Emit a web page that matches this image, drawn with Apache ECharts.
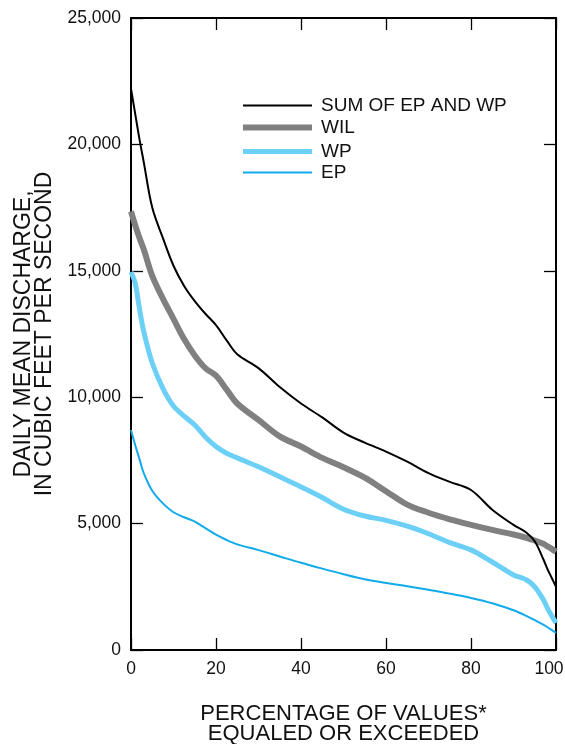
<!DOCTYPE html>
<html>
<head>
    <meta charset="UTF-8">
    <title>Daily mean discharge</title>
    <script src="https://cdn.jsdelivr.net/npm/echarts@6/dist/echarts.min.js"></script>
    <style>
        * { padding: 0; margin: 0; }
        body { background: #fff; }
        #chart { width: 565px; height: 744px; }
    </style>
</head>
<body>
    <div id="chart"></div>
<script>
    // percentage of values equaled or exceeded
    var pct = [0, 1, 2, 3, 5, 7.5, 10, 12.5, 15, 17.5, 20, 22.5, 25, 30, 35, 40, 45, 50, 55, 60, 65, 70, 75, 80, 85, 90, 93, 95, 97, 98, 99, 100];

    // daily mean discharge, cubic feet per second
    var sumEpWp = [22200, 21200, 20200, 19300, 17500, 16300, 15200, 14400, 13800, 13300, 12850, 12250, 11700, 11150, 10400, 9750, 9200, 8600, 8200, 7850, 7450, 7000, 6650, 6330, 5550, 4950, 4650, 4300, 3600, 3200, 2850, 2500];
    var wil = [17350, 16800, 16300, 15850, 14800, 13900, 13100, 12300, 11650, 11150, 10850, 10300, 9750, 9100, 8450, 8050, 7600, 7230, 6820, 6280, 5750, 5430, 5170, 4950, 4750, 4570, 4440, 4330, 4200, 4100, 4000, 3880];
    var wp = [14950, 14500, 13500, 12600, 11350, 10350, 9650, 9250, 8900, 8430, 8050, 7780, 7600, 7250, 6850, 6450, 6030, 5570, 5300, 5130, 4900, 4600, 4250, 3960, 3480, 2970, 2780, 2500, 2000, 1650, 1350, 1070];
    var ep = [8700, 8100, 7550, 7000, 6300, 5800, 5450, 5250, 5080, 4820, 4560, 4350, 4180, 3950, 3700, 3450, 3220, 3000, 2800, 2650, 2520, 2380, 2230, 2060, 1850, 1570, 1350, 1180, 1000, 900, 790, 680];

    var xTicks = [0, 20, 40, 60, 80, 100];
    var yTicks = [0, 5000, 10000, 15000, 20000, 25000];

    var names = ['SUM OF EP AND WP', 'WIL', 'WP', 'EP'];
    var colors = ['#000000', '#808080', '#6ccff6', '#11aaea'];
    var widths = [2, 6, 5, 2];
    var values = [sumEpWp, wil, wp, ep];

    var FONT = '"Liberation Sans", Arial, Helvetica, sans-serif';

    function pairs(ys) {
        var out = [];
        for (var i = 0; i < pct.length; i++) {
            out.push([pct[i], ys[i]]);
        }
        return out;
    }

    function fmt(v) {   // 25000 -> 25,000
        return String(v).replace(/\B(?=(\d{3})+(?!\d))/g, ',');
    }

    var series = [];
    var legends = [];
    var legendTop = [96, 118, 142, 163];
    for (var i = 0; i < names.length; i++) {
        series.push({
            name: names[i],
            type: 'line',
            data: pairs(values[i]),
            smooth: 0.35,
            showSymbol: false,
            color: colors[i],
            lineStyle: { color: colors[i], width: widths[i] },
            z: 10 - i
        });
        legends.push({
            data: [names[i]],
            left: 243,
            top: legendTop[i],
            padding: 0,
            icon: 'rect',
            itemWidth: 69,
            itemHeight: widths[i],
            textStyle: { fontFamily: FONT, fontSize: 19, color: '#111', padding: [0, 0, 0, 4] },
            selectedMode: false
        });
    }

    var axisLine = { show: true, onZero: false, lineStyle: { color: '#000', width: 2 } };
    var tick = { show: true, inside: true, length: 12, lineStyle: { color: '#000', width: 1.3 } };

    var option = {
        animation: false,
        backgroundColor: '#fff',
        grid: { left: 131, right: 9, top: 18, bottom: 94, containLabel: false, outerBoundsMode: 'none' },
        legend: legends,
        xAxis: [{
            type: 'value',
            min: xTicks[0],
            max: xTicks[xTicks.length - 1],
            interval: 20,
            position: 'bottom',
            axisLine: axisLine,
            axisTick: tick,
            splitLine: { show: false },
            axisLabel: {
                fontFamily: FONT, fontSize: 17.5, color: '#111', margin: 10,
                formatter: function (v) {
                    // the last label sits a little left so it stays on the page
                    return v === xTicks[xTicks.length - 1] ? '{last|' + v + '}' : String(v);
                },
                rich: { last: { fontFamily: FONT, fontSize: 17.5, color: '#111', padding: [0, 14, 0, 0] } }
            },
            name: 'PERCENTAGE OF VALUES*\nEQUALED OR EXCEEDED',
            nameLocation: 'middle',
            nameGap: 54,
            nameTextStyle: { fontFamily: FONT, fontSize: 22, color: '#111', lineHeight: 20 }
        }, {
            type: 'value',
            min: xTicks[0],
            max: xTicks[xTicks.length - 1],
            interval: 20,
            position: 'top',
            axisLine: axisLine,
            axisTick: tick,
            splitLine: { show: false },
            axisLabel: { show: false }
        }],
        yAxis: [{
            type: 'value',
            min: yTicks[0],
            max: yTicks[yTicks.length - 1],
            interval: 5000,
            position: 'left',
            axisLine: axisLine,
            axisTick: tick,
            splitLine: { show: false },
            axisLabel: { fontFamily: FONT, fontSize: 17.5, color: '#111', margin: 10, formatter: fmt },
            name: 'DAILY MEAN DISCHARGE,\nIN CUBIC FEET PER SECOND',
            nameLocation: 'middle',
            nameRotate: 90,
            nameGap: 76,
            nameTextStyle: { fontFamily: FONT, fontSize: 23, color: '#111', lineHeight: 21 }
        }, {
            type: 'value',
            min: yTicks[0],
            max: yTicks[yTicks.length - 1],
            interval: 5000,
            position: 'right',
            axisLine: axisLine,
            axisTick: tick,
            splitLine: { show: false },
            axisLabel: { show: false }
        }],
        series: series
    };

    var myChart = echarts.init(document.getElementById('chart'));
    myChart.setOption(option);
</script>
</body>
</html>
